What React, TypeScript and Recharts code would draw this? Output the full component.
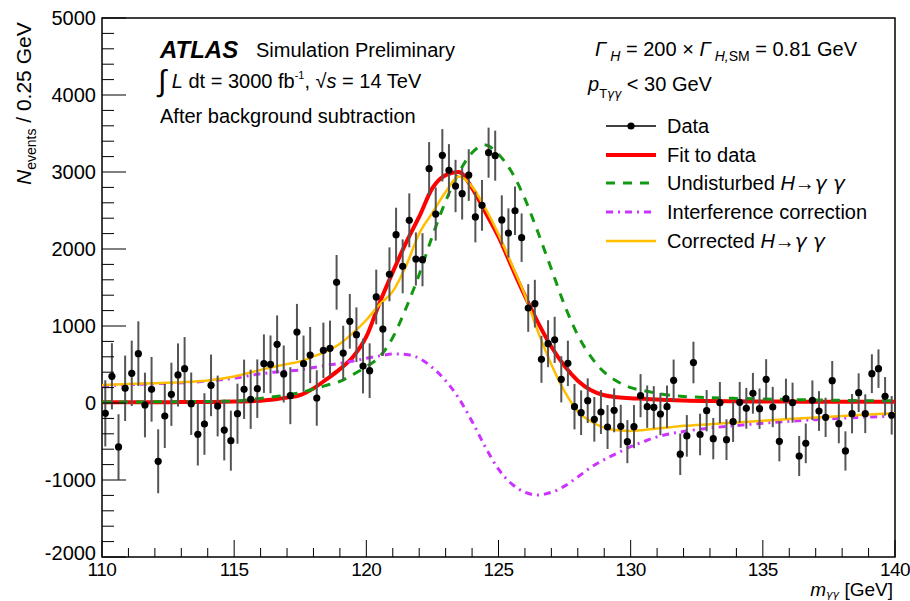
import React from 'react';
import { ComposedChart, Line, Scatter, ErrorBar, XAxis, YAxis, ReferenceArea } from 'recharts';

const FONT = '"Liberation Sans", Arial, Helvetica, sans-serif';
const GREEK = '"DejaVu Sans", "Liberation Sans", sans-serif';

// histogram: 0.25 GeV bins from 110 to 140
const BIN_LOW = 110;
const BIN_WIDTH = 0.25;

// background-subtracted events per bin
const dataValues = [
  -134, 347, -571, 191, 385, 641, -26, 178, -757, -169,
  113, 364, 446, -9, -407, -273, 229, -39, -351, -489,
  -139, 178, 48, 186, 511, 502, 762, 377, 95, 922,
  511, 623, 65, 684, 710, 1567, 649, 1061, 887, 480,
  420, 1377, 961, 1671, 2186, 1775, 2372, 1870, 1861, 3043,
  2454, 3217, 3022, 2818, 2718, 2960, 2416, 2567, 3251, 3212,
  2377, 2208, 2497, 2147, 1234, 1290, 567, 770, 820, 308,
  515, -48, -126, 30, -212, -117, -312, -95, -303, -502,
  -307, 95, -48, -56, -143, -48, 294, -665, -427, 526,
  -409, -100, -463, 4, -476, -242, 9, -69, 126, -74,
  307, -52, -498, 56, 4, -688, -524, 35, -104, -186,
  290, -268, -623, -139, 134, -139, 381, 446, 87, -160,
];

// statistical error per bin
const dataErrors = [
  430, 430, 425, 425, 425, 420, 420, 420, 415, 415,
  410, 410, 410, 405, 405, 400, 400, 395, 395, 390,
  390, 385, 385, 380, 380, 375, 375, 370, 370, 365,
  365, 365, 360, 360, 360, 355, 355, 355, 355, 355,
  355, 355, 350, 350, 350, 350, 350, 345, 345, 345,
  345, 340, 340, 340, 335, 335, 330, 330, 325, 325,
  320, 320, 315, 315, 310, 310, 305, 305, 300, 300,
  295, 295, 290, 290, 290, 285, 285, 285, 280, 280,
  280, 280, 275, 275, 275, 275, 270, 270, 270, 270,
  270, 268, 268, 268, 265, 265, 265, 265, 265, 262,
  262, 262, 260, 260, 260, 260, 258, 258, 258, 255,
  255, 255, 255, 255, 252, 252, 252, 250, 250, 250,
];

// curves sampled in m_gg
const curveMass = [
  110, 111, 112, 113, 114, 115, 116, 116.5, 117, 117.5,
  118, 118.5, 119, 119.5, 120, 120.5, 121, 121.5, 122, 122.5,
  123, 123.5, 124, 124.5, 125, 125.5, 126, 126.5, 127, 127.5,
  128, 128.5, 129, 129.5, 130, 130.5, 131, 131.5, 132, 133,
  134, 135, 136, 137, 138, 139, 140,
];
const fitValues = [
  10, 10, 10, 12, 14, 18, 30, 45, 70, 104,
  190, 310, 440, 600, 861, 1300, 1700, 2080, 2420, 2790,
  2960, 3000, 2790, 2480, 2160, 1770, 1390, 1040, 730, 480,
  290, 165, 100, 75, 62, 55, 45, 38, 32, 25,
  22, 20, 18, 17, 16, 15, 15,
];
const undisturbedValues = [
  12, 13, 15, 17, 20, 25, 60, 80, 105, 135,
  180, 230, 280, 370, 472, 600, 850, 1230, 1670, 2170,
  2620, 2990, 3250, 3350, 3230, 3000, 2650, 2210, 1740, 1270,
  880, 600, 400, 280, 200, 160, 125, 100, 85, 70,
  60, 52, 45, 40, 35, 30, 28,
];
const interferenceValues = [
  225, 238, 250, 262, 285, 322, 380, 400, 415, 430,
  460, 488, 515, 545, 580, 612, 636, 630, 580, 460,
  290, 60, -240, -570, -860, -1050, -1160, -1195, -1160, -1080,
  -960, -835, -735, -650, -567, -500, -440, -400, -370, -325,
  -292, -262, -237, -216, -197, -182, -169,
];
const correctedValues = [
  235, 248, 258, 270, 293, 345, 430, 470, 505, 540,
  605, 675, 770, 910, 1078, 1280, 1450, 1780, 2200, 2470,
  2740, 2940, 2810, 2530, 2190, 1800, 1400, 920, 500, 150,
  -110, -240, -320, -355, -364, -350, -332, -314, -297, -275,
  -254, -232, -208, -188, -168, -150, -134,
];

const xTicks = Array.from({ length: 31 }, (_, i) => 110 + i);
const yTicks = Array.from({ length: 36 }, (_, i) => -2000 + i * 200);

const points = dataValues.map((y, i) => ({
  x: BIN_LOW + (i + 0.5) * BIN_WIDTH,
  y,
  err: dataErrors[i],
}));

const curves = curveMass.map((x, i) => ({
  x,
  fit: fitValues[i],
  undisturbed: undisturbedValues[i],
  interference: interferenceValues[i],
  corrected: correctedValues[i],
}));

const C_FIT = '#ff0000';
const C_UND = '#129912';
const C_INT = '#cc33ff';
const C_COR = '#ffbf00';

function YTick({ x, y, payload }: any) {
  const v = payload.value;
  const major = v % 1000 === 0;
  // lowest label sits a little above its tick, as in ROOT
  const lift = v === -2000 ? -4 : 0;
  return (
    <g>
      <line x1={x} x2={x + (major ? 24 : 12)} y1={y} y2={y} stroke="#000" strokeWidth={1} />
      {major && (
        <text x={x - 6} y={y + lift} dy="0.36em" textAnchor="end" fontSize={20} fontFamily={FONT} fill="#000">
          {v}
        </text>
      )}
    </g>
  );
}

function XTick({ x, y, payload }: any) {
  const v = payload.value;
  const major = v % 5 === 0;
  return (
    <g>
      <line x1={x} x2={x} y1={y} y2={y - (major ? 17 : 9)} stroke="#000" strokeWidth={1} />
      {major && (
        <text x={x} y={y + 19} textAnchor="middle" fontSize={19} letterSpacing={-0.5} fontFamily={FONT} fill="#000">
          {v}
        </text>
      )}
    </g>
  );
}

const Dot = (p: any) => <circle cx={p.cx} cy={p.cy} r={3.6} fill="#000" />;

function Overlay() {
  const legendX = 606;
  const rows = [126, 155, 183, 212, 241];
  return (
    <svg
      width={910}
      height={601}
      style={{ position: 'absolute', left: 0, top: 0, pointerEvents: 'none' }}
      fontFamily={FONT}
      fill="#000"
    >
      <text x={160} y={58} fontSize={24} fontWeight="bold" fontStyle="italic">ATLAS</text>
      <text x={256} y={57} fontSize={20}>Simulation Preliminary</text>
      <text x={158} y={88} fontSize={20}>
        <tspan fontSize={30} dy={3}>∫</tspan>
        <tspan dy={-3} fontStyle="italic"> L</tspan>
        <tspan> dt = 3000 fb</tspan>
        <tspan fontSize={11} dy={-9}>-1</tspan>
        <tspan dy={9}>,  √</tspan>
        <tspan fontStyle="italic">s</tspan>
        <tspan> = 14 TeV</tspan>
      </text>
      <text x={160} y={123} fontSize={20}>After background subtraction</text>

      <text x={595} y={56} fontSize={20}>
        <tspan fontStyle="italic">Γ</tspan>
        <tspan fontStyle="italic" fontSize={14} dy={5}> H</tspan>
        <tspan dy={-5}> = 200 × </tspan>
        <tspan fontStyle="italic">Γ</tspan>
        <tspan fontStyle="italic" fontSize={14} dy={5}> H,</tspan>
        <tspan fontSize={14}>SM</tspan>
        <tspan dy={-5}> = 0.81 GeV</tspan>
      </text>
      <text x={588} y={91} fontSize={20}>
        <tspan fontStyle="italic">p</tspan>
        <tspan fontSize={13} dy={7}>T</tspan>
        <tspan fontSize={12} fontStyle="italic" fontFamily={GREEK}>γγ</tspan>
        <tspan dy={-7}> &lt; 30 GeV</tspan>
      </text>

      <line x1={legendX} x2={legendX + 50} y1={rows[0]} y2={rows[0]} stroke="#000" strokeWidth={1.3} />
      <circle cx={legendX + 25} cy={rows[0]} r={3.6} fill="#000" />
      <line x1={legendX} x2={legendX + 50} y1={rows[1]} y2={rows[1]} stroke={C_FIT} strokeWidth={4} />
      <line x1={legendX} x2={legendX + 50} y1={rows[2]} y2={rows[2]} stroke={C_UND} strokeWidth={3} strokeDasharray="9 8" />
      <line x1={legendX} x2={legendX + 50} y1={rows[3]} y2={rows[3]} stroke={C_INT} strokeWidth={3} strokeDasharray="7 5 2 5" />
      <line x1={legendX} x2={legendX + 50} y1={rows[4]} y2={rows[4]} stroke={C_COR} strokeWidth={2.5} />

      <text x={667} y={rows[0] + 7} fontSize={20}>Data</text>
      <text x={667} y={rows[1] + 7} fontSize={20}>Fit to data</text>
      <text x={667} y={rows[2] + 7} fontSize={20}>
        Undisturbed <tspan fontStyle="italic">H</tspan>→<tspan fontStyle="italic" fontFamily={GREEK}>γ γ</tspan>
      </text>
      <text x={667} y={rows[3] + 7} fontSize={20}>Interference correction</text>
      <text x={667} y={rows[4] + 7} fontSize={20}>
        Corrected <tspan fontStyle="italic">H</tspan>→<tspan fontStyle="italic" fontFamily={GREEK}>γ γ</tspan>
      </text>

      <text transform="translate(31,185) rotate(-90)" fontSize={21}>
        <tspan fontStyle="italic">N</tspan>
        <tspan fontSize={14} dy={5}>events</tspan>
        <tspan dy={-5}> / 0.25 GeV</tspan>
      </text>
      <text x={893} y={596} textAnchor="end" fontSize={19}>
        <tspan fontStyle="italic">m</tspan>
        <tspan fontSize={11} dy={2} fontStyle="italic" fontFamily={GREEK}>γγ</tspan>
        <tspan dy={-2}> [GeV]</tspan>
      </text>
    </svg>
  );
}

export default function App() {
  return (
    <div style={{ position: 'absolute', left: 0, top: 0, width: 910, height: 601, background: '#fff' }}>
      <ComposedChart width={910} height={601} margin={{ top: 18, right: 15, bottom: 4, left: 42 }}>
        <XAxis
          dataKey="x"
          type="number"
          domain={[110, 140]}
          ticks={xTicks}
          interval={0}
          height={40}
          tickSize={0}
          tickMargin={0}
          axisLine={false}
          tickLine={false}
          tick={<XTick />}
          allowDataOverflow
        />
        <YAxis
          type="number"
          domain={[-2000, 5000]}
          ticks={yTicks}
          interval={0}
          width={60}
          tickSize={0}
          tickMargin={0}
          axisLine={false}
          tickLine={false}
          tick={<YTick />}
          allowDataOverflow
        />
        <ReferenceArea x1={110} x2={140} y1={-2000} y2={5000} fill="none" stroke="#000" strokeWidth={1.5} ifOverflow="visible" />
        <Line data={curves} dataKey="fit" type="monotone" dot={false} stroke={C_FIT} strokeWidth={4} isAnimationActive={false} />
        <Line data={curves} dataKey="undisturbed" type="monotone" dot={false} stroke={C_UND} strokeWidth={3} strokeDasharray="9 8" isAnimationActive={false} />
        <Line data={curves} dataKey="interference" type="monotone" dot={false} stroke={C_INT} strokeWidth={3} strokeDasharray="7 5 2 5" isAnimationActive={false} />
        <Line data={curves} dataKey="corrected" type="monotone" dot={false} stroke={C_COR} strokeWidth={2.5} isAnimationActive={false} />
        <Scatter data={points} dataKey="y" shape={Dot} isAnimationActive={false}>
          <ErrorBar dataKey="err" direction="y" width={0} stroke="#555" strokeWidth={2} isAnimationActive={false} />
        </Scatter>
      </ComposedChart>
      <Overlay />
    </div>
  );
}
